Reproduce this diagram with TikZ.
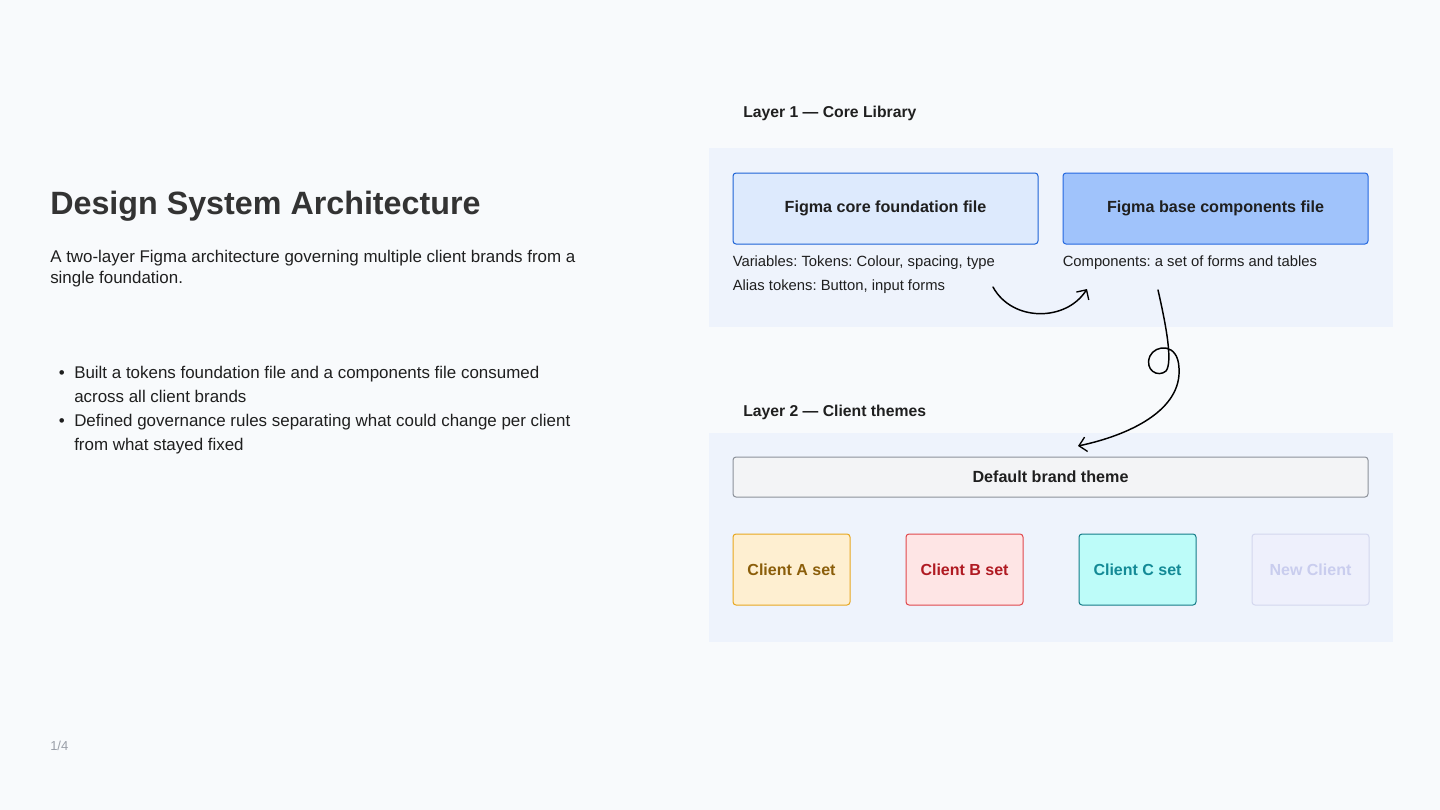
\documentclass[tikz,border=0pt]{standalone}
\usepackage{fontspec}
\setmainfont{Liberation Sans}
\usetikzlibrary{arrows.meta,positioning}
\tikzset{>/.tip={Straight Barb[length=5.5pt,width=11pt,line width=1pt]}}
\definecolor{pagebg}{HTML}{F8FAFC}
\definecolor{panelbg}{HTML}{EEF3FC}
\definecolor{ink}{HTML}{1F1F1F}
\definecolor{head}{HTML}{333333}
\definecolor{faint}{HTML}{9A9FA8}
\definecolor{coreF}{HTML}{DDEAFD}
\definecolor{coreD}{HTML}{1D63D6}
\definecolor{baseF}{HTML}{A0C3FB}
\definecolor{baseD}{HTML}{2468E0}
\definecolor{defF}{HTML}{F3F4F6}
\definecolor{defD}{HTML}{8C919A}
\definecolor{aF}{HTML}{FEEFD1}\definecolor{aD}{HTML}{E8A820}\definecolor{aT}{HTML}{8B5E0A}
\definecolor{bF}{HTML}{FEE5E5}\definecolor{bD}{HTML}{E0474C}\definecolor{bT}{HTML}{B01A22}
\definecolor{cF}{HTML}{BDFCF9}\definecolor{cD}{HTML}{147C88}\definecolor{cT}{HTML}{138A96}
\definecolor{nF}{HTML}{EEF0FC}\definecolor{nD}{HTML}{D3D7EE}\definecolor{nT}{HTML}{C9CDEE}
\tikzset{
  txt/.style={anchor=base west,inner sep=0pt,text=ink,font=\fontsize{12.7}{15}\selectfont},
  small/.style={anchor=base west,inner sep=0pt,text=ink,font=\fontsize{11.1}{13}\selectfont},
  layer/.style={anchor=base west,inner sep=0pt,text=ink,font=\bfseries\fontsize{11.8}{14}\selectfont},
  panel/.style={fill=panelbg,minimum width=513pt,inner sep=0pt,anchor=north west},
  filebox/.style={draw,rounded corners=2.25pt,line width=0.75pt,minimum width=228.75pt,minimum height=53.25pt,text=ink,font=\bfseries\fontsize{12.1}{14}\selectfont},
  client/.style={draw,rounded corners=2.25pt,line width=0.75pt,minimum width=87.75pt,minimum height=53.25pt,font=\bfseries\fontsize{12}{14}\selectfont},
}

\begin{document}
\frenchspacing
\begin{tikzpicture}[x=0.75pt,y=-0.75pt]
  \fill[pagebg] (0,0) rectangle (1440,810);
  \useasboundingbox (0,0) rectangle (1440,810);

  % left column
  \node[anchor=base west,inner sep=0pt,text=head,font=\bfseries\fontsize{24.2}{28}\selectfont](T) at (50,214) {Design System Architecture};
  \node[txt](S1) at (50,262) {A two-layer Figma architecture governing multiple client brands from a};
  \node[txt](S2) at ([yshift=-15.75pt]S1.base west) {single foundation.};
  \node[txt](I1a) at (74,378) {Built a tokens foundation file and a components file consumed};
  \node[txt](I1b) at ([yshift=-18pt]I1a.base west) {across all client brands};
  \node[txt](I2a) at ([yshift=-18pt]I1b.base west) {Defined governance rules separating what could change per client};
  \node[txt](I2b) at ([yshift=-18pt]I2a.base west) {from what stayed fixed};
  \node[txt,anchor=base east](D1) at ([xshift=-6.75pt]I1a.base west) {•};
  \node[txt,anchor=base east](D2) at ([xshift=-6.75pt]I2a.base west) {•};
  \node[anchor=base west,inner sep=0pt,text=faint,font=\fontsize{9.75}{12}\selectfont](pg) at (50,750) {1/4};

  % layer 1
  \node[layer](L1) at (743,117.5) {Layer 1 — Core Library};
  \node[panel,minimum height=134.25pt](P1) at (709,148) {};
  \node[filebox,draw=coreD,fill=coreF](F) at (885.5,208.5) {Figma core foundation file};
  \node[filebox,draw=baseD,fill=baseF](Bc) at (1215.5,208.5) {Figma base components file};
  \node[small](V1) at ([yshift=-16.5pt]F.south west) {Variables: Tokens: Colour, spacing, type};
  \node[small](V2) at ([yshift=-18pt]V1.base west) {Alias tokens: Button, input forms};
  \node[small](Cm) at ([yshift=-16.5pt]Bc.south west) {Components: a set of forms and tables};

  % layer 2
  \node[layer](L2) at (743,416.5) {Layer 2 — Client themes};
  \node[panel,minimum height=156.75pt](P2) at (709,433) {};
  \node[filebox,draw=defD,fill=defF,minimum width=476.25pt,minimum height=30pt](Th) at (1050.5,477) {Default brand theme};
  \foreach \n/\x/\c/\t in {cA/791.5/a/Client A set,cB/964.5/b/Client B set,cC/1137.5/c/Client C set,cN/1310.5/n/New Client}
    \node[client,draw=\c D,fill=\c F,text=\c T](\n) at (\x,569.5) {\t};

  % hand drawn arrows
  \coordinate (a0) at (993,287);
  \coordinate (a1) at (1087,289);
  \coordinate (b0) at (1158,290);
  \coordinate (b1) at (1078,446);
  \draw[->,line width=1.1pt,line cap=round] (a0) .. controls (1012,322) and (1066,322) .. (a1);
  \draw[->,line width=1.1pt,line cap=round] (b0) .. controls (1166,325) and (1173,362) .. (1166,371)
    .. controls (1158,378) and (1144,370) .. (1150,356)
    .. controls (1155,345) and (1178,342) .. (1179,368)
    .. controls (1182,410) and (1130,435) .. (b1);
\end{tikzpicture}
\end{document}
